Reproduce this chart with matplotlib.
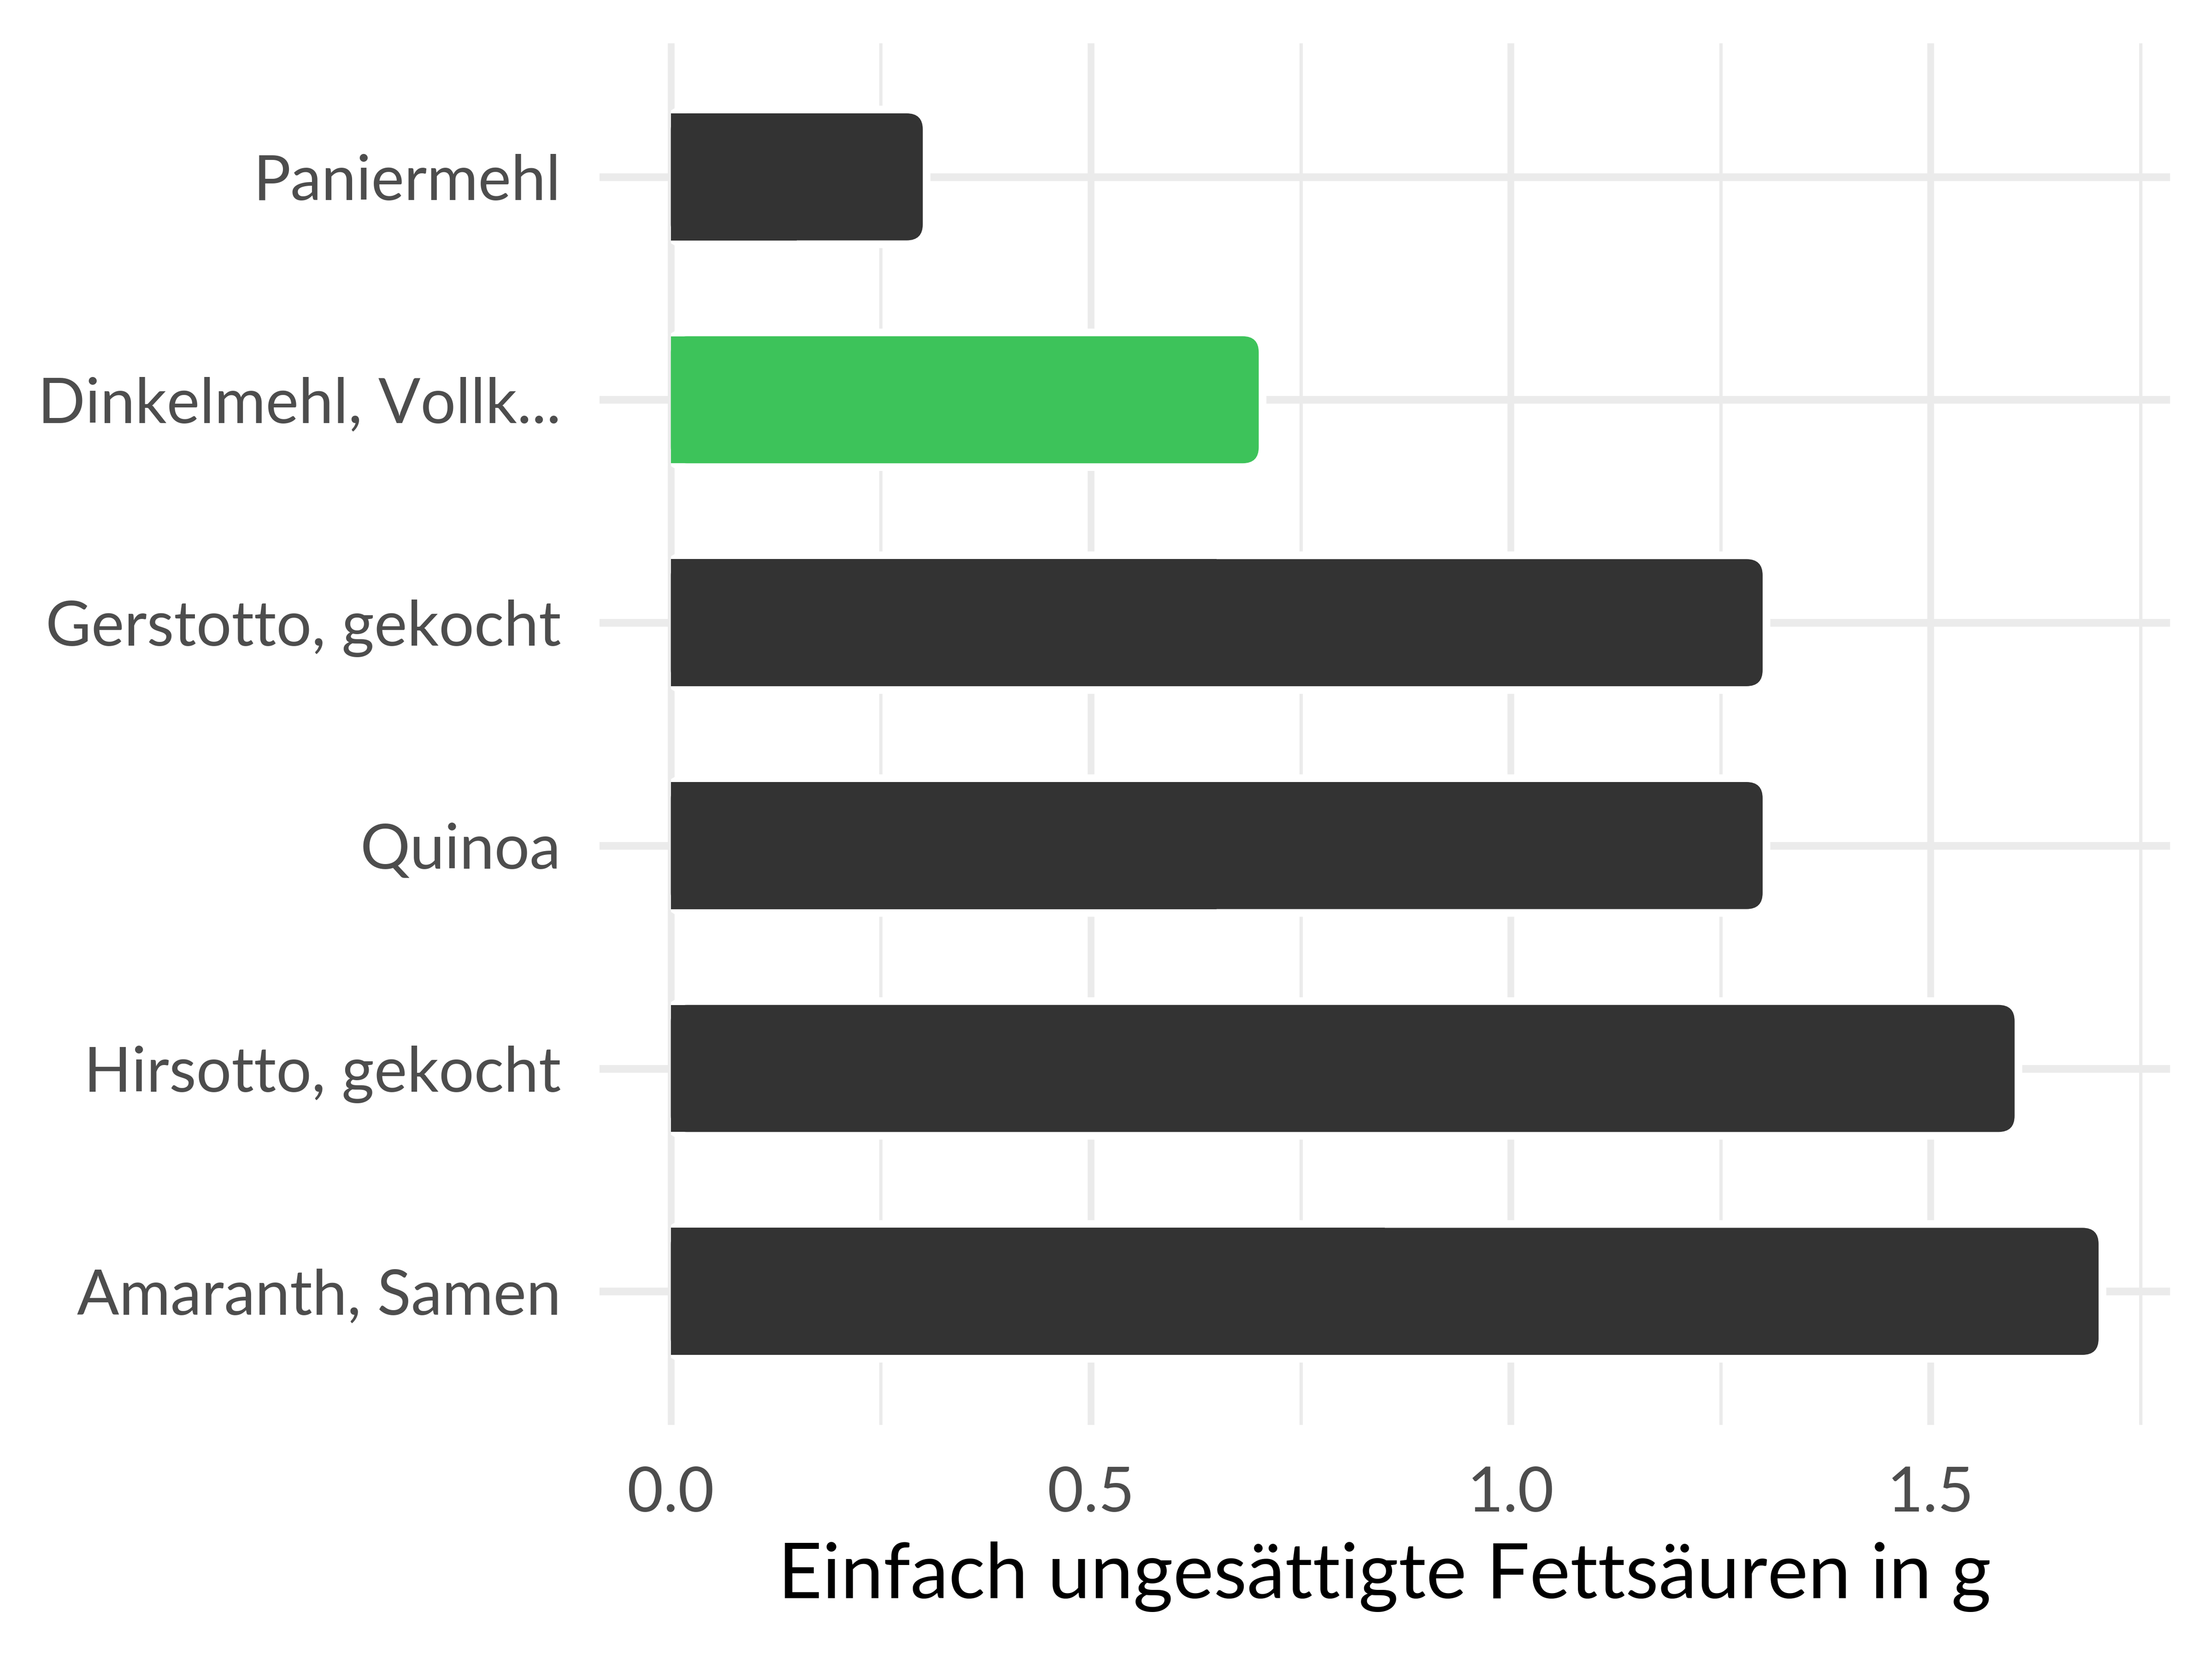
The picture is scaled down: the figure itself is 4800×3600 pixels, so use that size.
import matplotlib

matplotlib.use("Agg")

import matplotlib.pyplot as plt
from matplotlib.patches import FancyBboxPatch, Rectangle

# data
foods = [
    "Paniermehl",
    "Dinkelmehl, Vollk...",
    "Gerstotto, gekocht",
    "Quinoa",
    "Hirsotto, gekocht",
    "Amaranth, Samen",
]
mufa_g = [0.3, 0.7, 1.3, 1.3, 1.6, 1.7]
highlight = "Dinkelmehl, Vollk..."
x_ticks = [0.0, 0.5, 1.0, 1.5]
x_tick_labels = ["0.0", "0.5", "1.0", "1.5"]
x_minor_ticks = [0.25, 0.75, 1.25, 1.75]
x_label = "Einfach ungesättigte Fettsäuren in g"

BAR_DARK = "#333333"
BAR_GREEN = "#3DC35A"
GRID = "#EBEBEB"
TICK_TEXT = "#4D4D4D"

plt.rcParams["font.family"] = ["Lato", "DejaVu Sans"]

fig = plt.figure(figsize=(16, 12), dpi=300)
ax = fig.add_axes([0.271, 0.141, 0.710, 0.833])

n = len(foods)
# ggplot-like expansion: 5% on the continuous axis, 0.6 on the discrete one
span = max(mufa_g)
ax.set_xlim(-0.05 * span, span * 1.05)
ax.set_ylim(n - 1 + 0.6, -0.6)

for side in ax.spines.values():
    side.set_visible(False)
ax.set_axisbelow(True)
ax.set_xticks(x_ticks, x_tick_labels)
ax.set_xticks(x_minor_ticks, minor=True)
ax.set_yticks(range(n), foods)
ax.grid(which="major", axis="x", color=GRID, lw=3.5)
ax.grid(which="minor", axis="x", color=GRID, lw=1.7)
ax.grid(which="major", axis="y", color=GRID, lw=4.0)
ax.tick_params(which="both", length=0)
ax.tick_params(axis="y", pad=20, labelsize=32.5, labelcolor=TICK_TEXT)
ax.tick_params(axis="x", pad=21, labelsize=32.5, labelcolor=TICK_TEXT)
ax.set_xlabel(x_label, fontsize=40, color="black", labelpad=10)

# rounded right-hand corners, same radius in pixels on both axes
radius_px = 35
origin = ax.transData.transform((0, 0))
px_x = abs(ax.transData.transform((1, 0))[0] - origin[0])
px_y = abs(ax.transData.transform((0, 1))[1] - origin[1])
rx = radius_px / px_x
ry = radius_px / px_y
bar_h = 0.57

clip = Rectangle((0, -10), 100, 100, transform=ax.transData)

for i, (food, value) in enumerate(zip(foods, mufa_g)):
    colour = BAR_GREEN if food == highlight else BAR_DARK
    y0 = i - bar_h / 2
    # white halo that cuts the grid lines around the bar
    halo = FancyBboxPatch(
        (0, y0), value, bar_h,
        boxstyle=f"round,pad=0,rounding_size={rx}",
        mutation_aspect=ry / rx,
        fc="white", ec="white", lw=8, zorder=1,
    )
    ax.add_patch(halo)
    halo.set_clip_path(clip)
    ax.add_patch(FancyBboxPatch(
        (0, y0), value, bar_h,
        boxstyle=f"round,pad=0,rounding_size={rx}",
        mutation_aspect=ry / rx,
        fc=colour, ec="none", zorder=2,
    ))
    # square off the left end
    ax.add_patch(Rectangle((0, y0), value / 2, bar_h, fc=colour, ec="none", zorder=2))

fig.savefig("out.png", dpi=300)
plt.close(fig)
